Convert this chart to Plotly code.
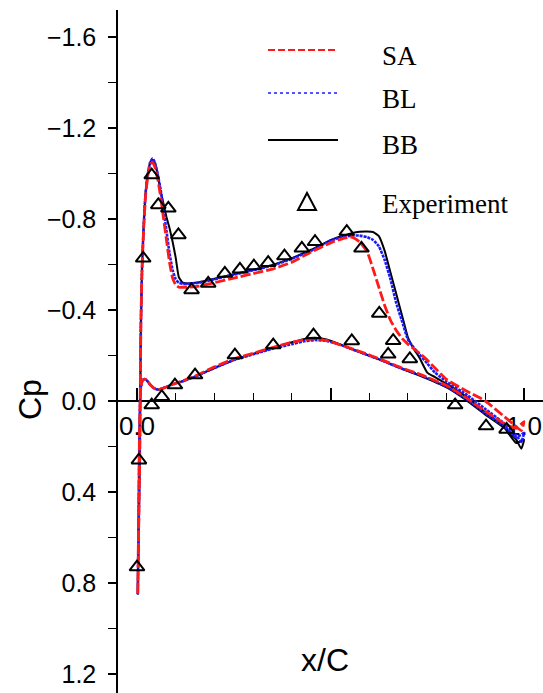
import plotly.graph_objects as go

# ---------------- data ----------------
# upper surface x/C (shared grid)
xu = [0.002, 0.004, 0.007, 0.010, 0.013, 0.017, 0.022, 0.028, 0.034, 0.040, 0.046, 0.053,
      0.060, 0.068, 0.076, 0.084, 0.092, 0.100, 0.108, 0.118, 0.130, 0.16, 0.20, 0.25, 0.30,
      0.35, 0.40, 0.45, 0.50, 0.53, 0.555, 0.575, 0.595, 0.61, 0.625, 0.64, 0.655, 0.67, 0.685,
      0.70, 0.715, 0.73, 0.75, 0.77, 0.80, 0.85, 0.90, 0.95, 0.98, 0.993, 1.0]
sa_up = [0.85, 0.60, 0.25, -0.33, -0.58, -0.75, -0.90, -0.99, -1.04, -1.05, -1.03, -0.98,
         -0.91, -0.81, -0.71, -0.61, -0.54, -0.51, -0.50, -0.50, -0.50, -0.505, -0.52, -0.54, -0.56,
         -0.58, -0.61, -0.655, -0.695, -0.713, -0.72, -0.70, -0.655, -0.58, -0.50, -0.42, -0.355, -0.31, -0.275,
         -0.25, -0.23, -0.21, -0.18, -0.145, -0.095, -0.045, 0.0, 0.07, 0.113, 0.13, 0.09]
bl_up = [0.85, 0.60, 0.25, -0.33, -0.58, -0.76, -0.91, -1.00, -1.05, -1.066, -1.05, -1.00,
         -0.94, -0.85, -0.75, -0.65, -0.575, -0.535, -0.52, -0.515, -0.515, -0.52, -0.535, -0.555, -0.575,
         -0.595, -0.625, -0.66, -0.705, -0.72, -0.727, -0.727, -0.72, -0.708, -0.68, -0.62, -0.535, -0.43, -0.35,
         -0.27, -0.235, -0.205, -0.165, -0.125, -0.085, -0.03, 0.035, 0.10, 0.15, 0.18, 0.14]
bb_up = [0.85, 0.60, 0.25, -0.33, -0.58, -0.76, -0.91, -1.00, -1.045, -1.06, -1.045, -1.00,
         -0.93, -0.87, -0.81, -0.76, -0.70, -0.63, -0.545, -0.52, -0.517, -0.522, -0.537, -0.557, -0.577,
         -0.598, -0.628, -0.665, -0.707, -0.725, -0.738, -0.744, -0.745, -0.743, -0.725, -0.66, -0.565, -0.47, -0.375,
         -0.28, -0.23, -0.19, -0.125, -0.105, -0.075, -0.02, 0.05, 0.115, 0.17, 0.21, 0.17]

# lower surface x/C (shared grid)
xl = [0.002, 0.004, 0.006, 0.008, 0.010, 0.013, 0.017, 0.022, 0.028, 0.035, 0.045, 0.055,
      0.07, 0.09, 0.12, 0.15, 0.20, 0.25, 0.30, 0.35, 0.40, 0.43, 0.46, 0.49, 0.52, 0.58, 0.63,
      0.68, 0.73, 0.80, 0.85, 0.90, 0.95, 0.98, 1.0]
sa_lo = [0.85, 0.55, 0.20, 0.0, -0.06, -0.085, -0.095, -0.095, -0.085, -0.07, -0.055, -0.05,
         -0.058, -0.072, -0.09, -0.11, -0.15, -0.185, -0.21, -0.235, -0.258, -0.268, -0.273, -0.266, -0.25, -0.215, -0.183,
         -0.148, -0.118, -0.068, -0.015, 0.045, 0.10, 0.12, 0.09]
bl_lo = [0.85, 0.55, 0.20, 0.0, -0.06, -0.085, -0.095, -0.095, -0.085, -0.07, -0.055, -0.05,
         -0.058, -0.072, -0.088, -0.107, -0.145, -0.18, -0.205, -0.23, -0.25, -0.262, -0.268, -0.264, -0.25, -0.212, -0.18,
         -0.145, -0.115, -0.063, -0.01, 0.054, 0.113, 0.16, 0.14]
bb_lo = [0.85, 0.55, 0.20, 0.0, -0.06, -0.085, -0.095, -0.095, -0.085, -0.07, -0.055, -0.05,
         -0.058, -0.072, -0.088, -0.107, -0.145, -0.18, -0.207, -0.233, -0.258, -0.272, -0.278, -0.27, -0.252, -0.212, -0.18,
         -0.145, -0.112, -0.06, -0.005, 0.06, 0.12, 0.185, 0.17]

# experiment
exp_x = [0.0, 0.005, 0.016, 0.038, 0.055, 0.081, 0.107, 0.141, 0.184, 0.227, 0.266, 0.302,
         0.339, 0.381, 0.426, 0.46, 0.542, 0.58, 0.626, 0.662, 0.649, 0.705,
         0.038, 0.064, 0.098, 0.15, 0.253, 0.352, 0.456, 0.555, 0.822, 0.902, 0.955]
exp_cp = [0.73, 0.26, -0.627, -0.993, -0.862, -0.847, -0.73, -0.488, -0.517, -0.561, -0.579, -0.593,
          -0.608, -0.637, -0.671, -0.70, -0.745, -0.671, -0.385, -0.265, -0.205, -0.185,
          0.018, -0.019, -0.07, -0.114, -0.202, -0.246, -0.29, -0.264, 0.018, 0.11, 0.125]

y_ticks = [-1.6, -1.2, -0.8, -0.4, 0.0, 0.4, 0.8, 1.2]
y_ticktext = ["\u22121.6", "\u22121.2", "\u22120.8", "\u22120.4", "0.0", "0.4", "0.8", "1.2"]
x_ticks = [0.0, 0.5, 1.0]
x_ticktext = ["0.0", "", "1.0"]

models = [
    ("BB", bb_up, bb_lo, dict(color="black", width=2)),
    ("BL", bl_up, bl_lo, dict(color="#1a1aff", width=2.6, dash="3px,1px")),
    ("SA", sa_up, sa_lo, dict(color="#ff1a1a", width=2.8, dash="10px,3px")),
]

# ---------------- figure ----------------
W, H = 543, 693
L, R, T, B = 118, 0, 10, 0
YR = [1.2835, -1.7187]
XR = [-0.0491, 1.0491]

fig = go.Figure()
for name, up, lo, ln in models:
    xs = xl[::-1] + xu
    ys = lo[::-1] + up
    fig.add_trace(go.Scatter(x=xs, y=ys, mode="lines", name=name, line=ln,
                             line_shape="spline", line_smoothing=0.4, showlegend=False))
fig.add_trace(go.Scatter(x=exp_x, y=exp_cp, mode="markers", name="Experiment",
                         marker=dict(symbol="triangle-up-open", size=13, color="black",
                                     line=dict(width=2, color="black")),
                         showlegend=False))

pw, ph = W - L - R, H - T - B


def px(xp, yp):
    return (xp - L) / pw, (H - B - yp) / ph


zero_pos = (0 - YR[0]) / (YR[1] - YR[0])

fig.update_layout(
    width=W, height=H, margin=dict(l=L, r=R, t=T, b=B),
    paper_bgcolor="white", plot_bgcolor="white",
    font=dict(family="Liberation Sans, Arial", color="black"),
    xaxis=dict(range=XR, showgrid=False, zeroline=False, showline=True, linecolor="black",
               linewidth=1.5, anchor="free", position=zero_pos, side="bottom",
               tickvals=x_ticks, ticktext=x_ticktext, ticks="inside", ticklen=12,
               tickwidth=1.5, tickcolor="black", tickfont=dict(size=26),
               ticklabelstandoff=2, layer="below traces",
               minor=dict(dtick=0.1, tick0=0, ticks="inside", ticklen=7, tickwidth=1.2,
                          tickcolor="black", showgrid=False)),
    yaxis=dict(range=YR, showgrid=False, zeroline=False, showline=True, linecolor="black",
               linewidth=1.5, tickvals=y_ticks, ticktext=y_ticktext, ticks="outside",
               ticklen=8, tickwidth=1.5, tickcolor="black", tickfont=dict(size=25),
               ticklabelstandoff=7,
               minor=dict(dtick=0.2, tick0=0, ticks="outside", ticklen=8, tickwidth=1.2,
                          tickcolor="black", showgrid=False)),
)

# axis titles
cx, cy = px(30, 400)
fig.add_annotation(text="Cp", x=cx, y=cy, xref="paper", yref="paper", showarrow=False,
                   textangle=-90, font=dict(size=32), xanchor="center", yanchor="middle")
tx, ty = px(325, 660)
fig.add_annotation(text="x/C", x=tx, y=ty, xref="paper", yref="paper", showarrow=False,
                   font=dict(size=32), xanchor="center", yanchor="middle")

# manual legend
leg = [("SA", 50, 56, dict(color="#ff1a1a", width=2.2, dash="7px,3px")),
       ("BL", 93, 99, dict(color="#1a1aff", width=1.5, dash="dot")),
       ("BB", 140, 145, dict(color="black", width=2))]
x0, _ = px(268, 0)
x1, _ = px(338, 0)
xt, _ = px(380, 0)
for name, yl, ytxt, ln in leg:
    _, yy = px(0, yl)
    fig.add_shape(type="line", xref="paper", yref="paper", x0=x0, x1=x1, y0=yy, y1=yy, line=ln)
    _, yt = px(0, ytxt)
    fig.add_annotation(text=name, x=xt, y=yt, xref="paper", yref="paper", showarrow=False,
                       xanchor="left", yanchor="middle",
                       font=dict(family="Liberation Serif, Times New Roman", size=27))
ax, ay = px(298, 210)
bx, by = px(316, 210)
tpx, tpy = px(307, 193)
fig.add_shape(type="path", xref="paper", yref="paper",
              path=f"M {ax},{ay} L {bx},{by} L {tpx},{tpy} Z",
              line=dict(color="black", width=2))
_, ye = px(0, 204)
fig.add_annotation(text="Experiment", x=xt, y=ye, xref="paper", yref="paper", showarrow=False,
                   xanchor="left", yanchor="middle",
                   font=dict(family="Liberation Serif, Times New Roman", size=27))

fig.write_html("out.html", config={"displayModeBar": False},
               post_script="document.body.style.margin='0';")
